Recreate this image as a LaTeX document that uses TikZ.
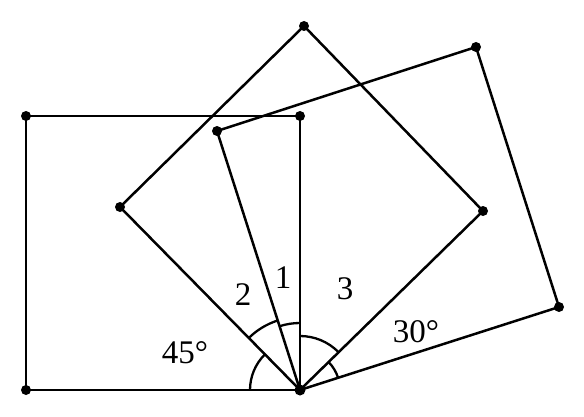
\documentclass[tikz,border=0pt]{standalone}
\usepackage{fontspec}
\setmainfont{Liberation Serif}
\begin{document}
\begin{tikzpicture}[x=1pt,y=1pt,
  edge/.style={line width=2.5pt,line join=miter},
  arcline/.style={line width=2.3pt},
  dot/.style={fill=black},
  lbl/.style={font=\fontsize{33}{38}\selectfont,inner sep=0pt}]
\useasboundingbox (0,0) rectangle (584,416);
% vertices
\coordinate (O) at (300,26);
\coordinate (A1) at (26,26);
\coordinate (A2) at (26,300);
\coordinate (A3) at (300,300);
\coordinate (D1) at (120,209);
\coordinate (D2) at (304,390);
\coordinate (D3) at (483,205);
\coordinate (S1) at (559,109);
\coordinate (S2) at (476,369);
\coordinate (S3) at (217,285);
% squares
\draw[edge] (O) -- (A1) -- (A2) -- (A3) -- cycle;
\draw[edge] (O) -- (D1) -- (D2) -- (D3) -- cycle;
\draw[edge] (O) -- (S1) -- (S2) -- (S3) -- cycle;
% angle arcs
\draw[arcline] ([shift={(180:50)}]O) arc[start angle=180,end angle=135,radius=50];
\draw[arcline] ([shift={(135:73)}]O) arc[start angle=135,end angle=107.8,radius=73];
\draw[arcline] ([shift={(107.8:67)}]O) arc[start angle=107.8,end angle=90,radius=67];
\draw[arcline] ([shift={(90:54)}]O) arc[start angle=90,end angle=45,radius=54];
\draw[arcline] ([shift={(45:40)}]O) arc[start angle=45,end angle=17.8,radius=40];
% dots
\foreach \p in {A1,A2,A3,D1,D2,D3,S1,S2,S3} \fill[dot] (\p) circle[radius=5];
\fill[dot] (O) circle[radius=5.5];
% labels
\node[lbl] (l1) at (283,138) {1};
\node[lbl] (l2) at (243,121) {2};
\node[lbl] (l3) at (345,127) {3};
\node[lbl] (l45) at (185,63) {45°};
\node[lbl] (l30) at (416,84) {30°};
\end{tikzpicture}
\end{document}
